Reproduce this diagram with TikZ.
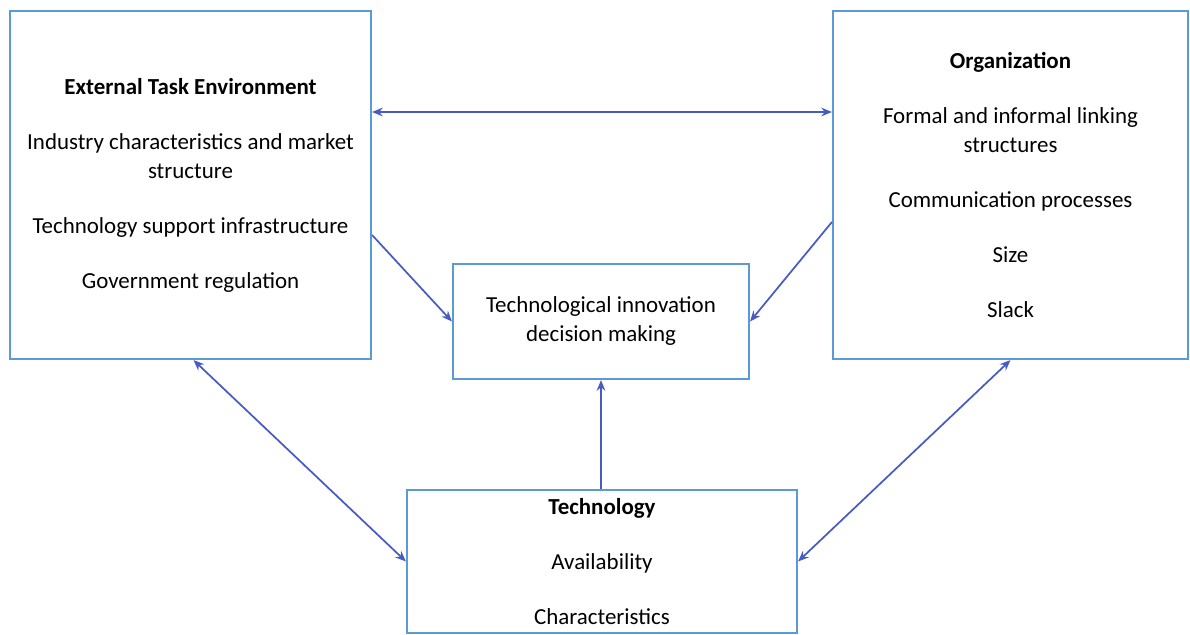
\documentclass[tikz,border=0pt]{standalone}
\usepackage{fontspec}
\setmainfont{Carlito}
\usetikzlibrary{arrows.meta,calc}
\definecolor{boxblue}{RGB}{91,155,213}
\definecolor{linkblue}{RGB}{72,90,196}
\tikzset{
  factor/.style={draw=boxblue,line width=1.6pt,align=center,inner sep=0pt,
    font=\fontsize{17.2}{21.75}\selectfont},
  link/.style={draw=linkblue,line width=1.3pt,-{Stealth[length=8pt,width=6.5pt]}},
  bilink/.style={link,{Stealth[length=8pt,width=6.5pt]}-{Stealth[length=8pt,width=6.5pt]}}
}
\newcommand{\gap}{\\[19.5pt]}
\begin{document}
\begin{tikzpicture}[x=0.75pt,y=-0.75pt]
  \useasboundingbox (0,0) rectangle (1190,635);
  % the four factors
  \node[factor,minimum width=270.75pt,minimum height=261pt] (ext) at (190.5,185)
    {\textbf{External Task Environment}\gap
     Industry characteristics and market\\ structure\gap
     Technology support infrastructure\gap
     Government regulation};
  \node[factor,minimum width=266.25pt,minimum height=261pt] (org) at (1010.5,185)
    {\textbf{Organization}\gap
     Formal and informal linking\\ structures\gap
     Communication processes\gap
     Size\gap
     Slack};
  \node[factor,minimum width=222pt,minimum height=86.25pt] (dec) at (601,321.5)
    {Technological innovation\\ decision making};
  \node[factor,minimum width=292.5pt,minimum height=107.25pt] (tech) at (602,561.5)
    {\textbf{Technology}\gap
     Availability\gap
     Characteristics};
  % links
  \coordinate (top) at (0,112);
  \draw[bilink] (ext.east |- top) -- (org.west |- top);
  \draw[link] ($(ext.east)+(0,50)$) -- (dec.west);
  \draw[link] ($(org.west)+(0,37)$) -- (dec.east);
  \draw[link] (tech.north -| dec.south) -- (dec.south);
  \draw[bilink] ($(ext.south)+(3,0)$) -- (tech.west);
  \draw[bilink] (org.south) -- (tech.east);
\end{tikzpicture}
\end{document}
